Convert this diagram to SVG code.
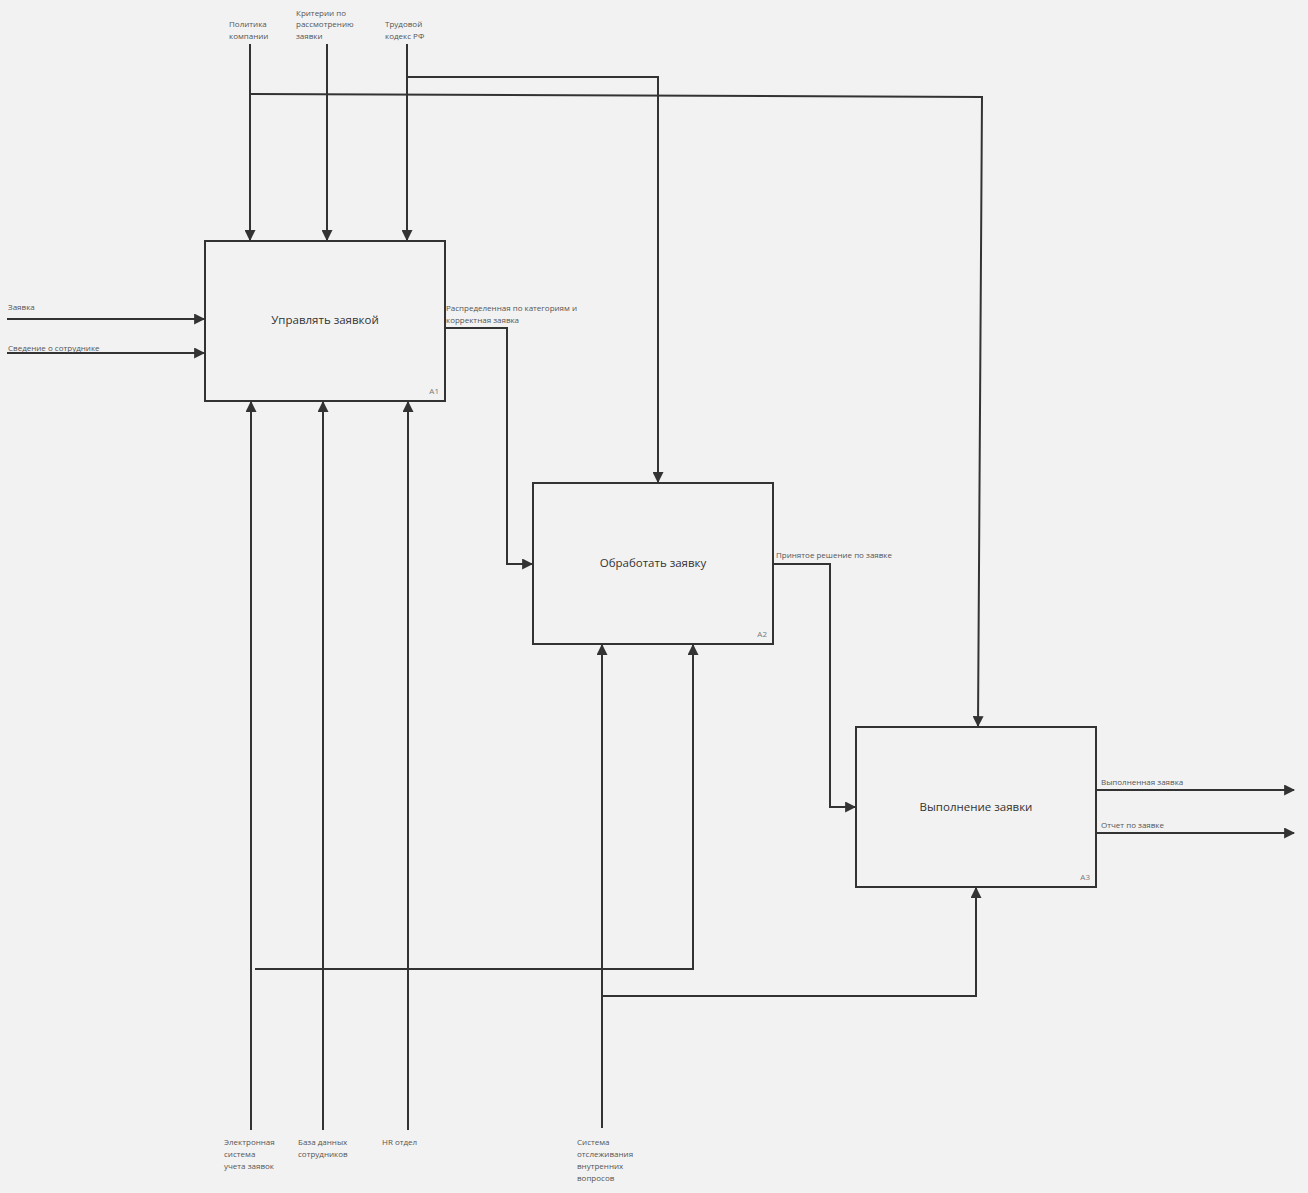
<svg xmlns="http://www.w3.org/2000/svg" width="1308" height="1193" viewBox="0 0 1308 1193">
<style>
.box{fill:#f2f2f2;stroke:#333;stroke-width:2}
.ln{fill:none;stroke:#333;stroke-width:2}
.t{font-family:"Open Sans","DejaVu Sans",sans-serif;font-size:11.5px;fill:#333;text-anchor:middle;dominant-baseline:middle}
.s{font-family:"Open Sans","DejaVu Sans",sans-serif;font-size:8px;fill:#555}
.c{font-family:"Open Sans","DejaVu Sans",sans-serif;font-size:8px;fill:#777;text-anchor:end}
</style>
<defs>
<marker id="ar" viewBox="0 0 10 10" refX="9" refY="5" markerWidth="5.5" markerHeight="5.5" orient="auto" markerUnits="strokeWidth">
<path d="M0,0 L10,5 L0,10 z" fill="#333"/>
</marker>
</defs>
<rect width="1308" height="1193" fill="#f2f2f2"/>
<g id="connectors">
<path class="ln" d="M250,44 V240" marker-end="url(#ar)"/>
<path class="ln" d="M327,44 V240" marker-end="url(#ar)"/>
<path class="ln" d="M407,44 V240" marker-end="url(#ar)"/>
<path class="ln" d="M250,94 L982,97 L978,726" marker-end="url(#ar)"/>
<path class="ln" d="M407,77 H658 V482" marker-end="url(#ar)"/>
<path class="ln" d="M7,319 H204" marker-end="url(#ar)"/>
<path class="ln" d="M7,353 H204" marker-end="url(#ar)"/>
<path class="ln" d="M445,328 H507 V564 H532" marker-end="url(#ar)"/>
<path class="ln" d="M773,564 H830 V807 H855" marker-end="url(#ar)"/>
<path class="ln" d="M1096,790 H1294" marker-end="url(#ar)"/>
<path class="ln" d="M1096,833 H1294" marker-end="url(#ar)"/>
<path class="ln" d="M251,1130 V402" marker-end="url(#ar)"/>
<path class="ln" d="M323,1130 V402" marker-end="url(#ar)"/>
<path class="ln" d="M408,1130 V402" marker-end="url(#ar)"/>
<path class="ln" d="M255,969 H693 V645" marker-end="url(#ar)"/>
<path class="ln" d="M602,1128 V645" marker-end="url(#ar)"/>
<path class="ln" d="M602,996 H976 V888" marker-end="url(#ar)"/>
</g>
<g id="A1">
<rect class="box" x="205" y="241" width="240" height="160"/>
<text class="t" x="325" y="321">Управлять заявкой</text>
<text class="c" x="439" y="394">A1</text>
</g>
<g id="A2">
<rect class="box" x="533" y="483" width="240" height="161"/>
<text class="t" x="653" y="564">Обработать заявку</text>
<text class="c" x="767" y="637">A2</text>
</g>
<g id="A3">
<rect class="box" x="856" y="727" width="240" height="160"/>
<text class="t" x="976" y="808">Выполнение заявки</text>
<text class="c" x="1090" y="880">A3</text>
</g>
<g id="labels">
<text class="s" x="229" y="27">Политика</text>
<text class="s" x="229" y="39">компании</text>
<text class="s" x="296" y="16">Критерии по</text>
<text class="s" x="296" y="27">рассмотрению</text>
<text class="s" x="296" y="39">заявки</text>
<text class="s" x="385" y="27">Трудовой</text>
<text class="s" x="385" y="39">кодекс РФ</text>
<text class="s" x="8" y="310">Заявка</text>
<text class="s" x="8" y="351">Сведение о сотруднике</text>
<text class="s" x="446" y="311">Распределенная по категориям и</text>
<text class="s" x="446" y="323">корректная заявка</text>
<text class="s" x="776" y="558">Принятое решение по заявке</text>
<text class="s" x="1101" y="785">Выполненная заявка</text>
<text class="s" x="1101" y="828">Отчет по заявке</text>
<text class="s" x="224" y="1145">Электронная</text>
<text class="s" x="224" y="1157">система</text>
<text class="s" x="224" y="1169">учета заявок</text>
<text class="s" x="298" y="1145">База данных</text>
<text class="s" x="298" y="1157">сотрудников</text>
<text class="s" x="382" y="1145">HR отдел</text>
<text class="s" x="577" y="1145">Система</text>
<text class="s" x="577" y="1157">отслеживания</text>
<text class="s" x="577" y="1169">внутренних</text>
<text class="s" x="577" y="1181">вопросов</text>
</g>
</svg>
